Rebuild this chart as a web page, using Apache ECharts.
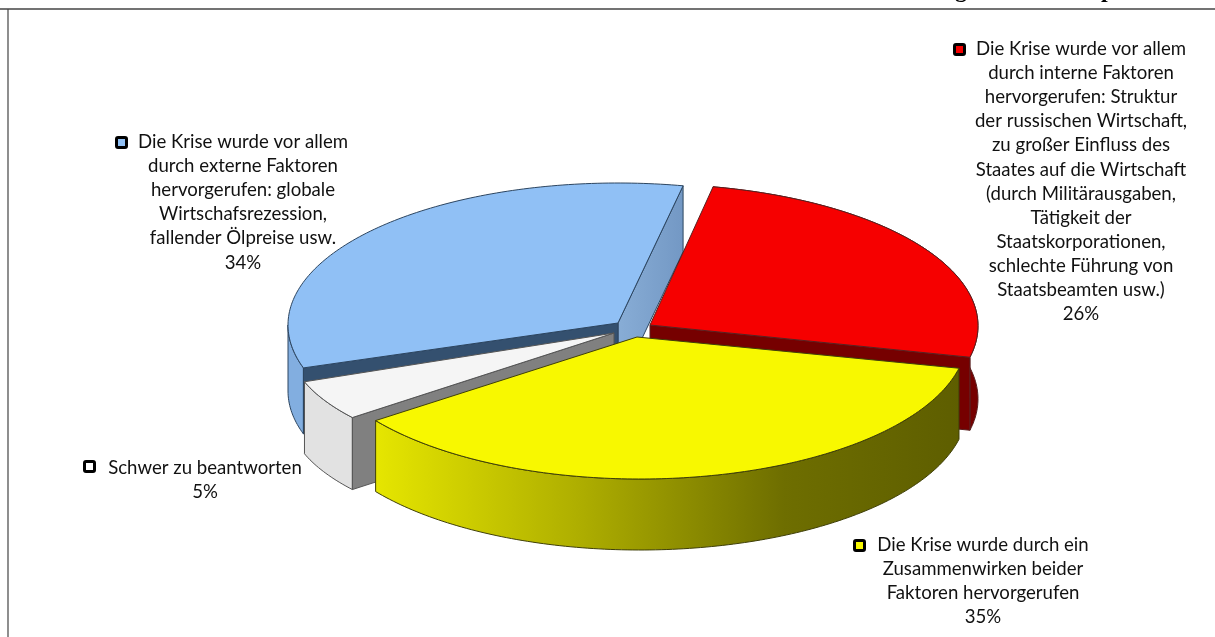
<!DOCTYPE html>
<html><head><meta charset="utf-8">
<style>html,body{margin:0;padding:0;background:#fff}#c{width:1215px;height:637px}</style>
<script src="https://cdn.jsdelivr.net/npm/echarts@6/dist/echarts.min.js"></script>
</head><body><div id="c"></div>
<script>
const categories = [
  "Die Krise wurde vor allem\ndurch interne Faktoren\nhervorgerufen: Struktur\nder russischen Wirtschaft,\nzu großer Einfluss des\nStaates auf die Wirtschaft\n(durch Militärausgaben,\nTätigkeit der\nStaatskorporationen,\nschlechte Führung von\nStaatsbeamten usw.)",
  "Die Krise wurde durch ein\nZusammenwirken beider\nFaktoren hervorgerufen",
  "Schwer zu beantworten",
  "Die Krise wurde vor allem\ndurch externe Faktoren\nhervorgerufen: globale\nWirtschafsrezession,\nfallender Ölpreise usw."
];
const values = [26, 35, 5, 34];
const topColors = ["#f60000", "#f8f800", "#f5f5f5", "#90c0f5"];
const cutColors = ["#760000", "#f8f800", "#808080", "#34506f"];
const edgeColors = ["#5a2020", "#3f3f08", "#555555", "#2c4560"];
const sideFills = [
  "#760000",
  {type:"linear",x:0,y:0,x2:1,y2:0,colorStops:[{offset:0,color:"#e6e600"},{offset:.35,color:"#aeae00"},{offset:.7,color:"#6e6e00"},{offset:1,color:"#5e5e00"}]},
  "#e2e2e2",
  "#82aee0"
];
const apex = [[650,325],[637,337],[614,333],[618,323]];
const centre = [[648,326],[640,337],[620,344],[618,325]];
const radiusX = [330,327,331,330];
const radiusY = [142,142,125,142];
const depth = [73,71,72,66];
const keyPos = [[953,43],[853,539],[83,460],[115,136]];
const labelPos = [[1081,37],[983,533],[205,456],[243,130]];
const drawOrder = [3,0,2,1];
const startDeg = -78, warp = 3;

const total = values.reduce((a,b)=>a+b,0);
const rad = d => d*Math.PI/180;
function warpDeg(t){ return t - warp*Math.cos(rad(t)); }
function sliceAngles(i){
  let before = 0; for(let k=0;k<i;k++) before += values[k];
  const a = startDeg + 360*before/total, b = startDeg + 360*(before+values[i])/total;
  return [warpDeg(a), warpDeg(b)];
}
function arc(i, from, to, dy){
  const pts=[], n=Math.max(2,Math.ceil(Math.abs(to-from)));
  for(let k=0;k<=n;k++){
    const t=rad(from+(to-from)*k/n);
    pts.push([centre[i][0]+radiusX[i]*Math.cos(t), centre[i][1]+radiusY[i]*Math.sin(t)+dy]);
  }
  return pts;
}
function poly(points, fill, stroke, z){
  return {type:"polygon", z2:z, shape:{points}, style:{fill, stroke:stroke||fill, lineWidth:1, lineJoin:"round"}};
}
function renderSlice(params){
  const idx = params.dataIndex, i = drawOrder[idx], base = idx*10;
  const [a,b] = sliceAngles(i);
  const d = depth[i], ap = apex[i], top = arc(i,a,b,0);
  const first = top[0], last = top[top.length-1];
  const kids = [];
  const down = p => [p[0],p[1]+d];
  if(i===3){
    const backFill = {type:"linear",x:0,y:0,x2:1,y2:0,colorStops:[{offset:0,color:"#88add6"},{offset:1,color:"#7398c4"}]};
    kids.push(poly([ap,last,down(last),down(ap)], backFill, edgeColors[i], base+1));
  }
  const wall = arc(i,a,Math.min(b,180),0);
  kids.push(poly(wall.concat(wall.slice().reverse().map(down)), sideFills[i], edgeColors[i], base+2));
  if(i===0) kids.push(poly([ap,last,down(last),down(ap)], cutColors[i], edgeColors[i], base+3));
  if(i===2||i===3) kids.push(poly([ap,first,down(first),down(ap)], cutColors[i], edgeColors[i], base+3));
  kids.push(poly([ap].concat(top), topColors[i], edgeColors[i], base+4));
  return {type:"group", children:kids};
}
function renderText(params){
  const i = params.dataIndex;
  const pct = Math.round(100*values[i]/total)+"%";
  return {type:"group", children:[
    {type:"rect", shape:{x:keyPos[i][0]+1.5,y:keyPos[i][1]+1.5,width:10,height:10,r:1.5},
     style:{fill:topColors[i]==="#f5f5f5"?"#ffffff":topColors[i],stroke:"#000",lineWidth:3}},
    {type:"text", x:labelPos[i][0], y:labelPos[i][1],
     style:{text:categories[i]+"\n"+pct, fill:"#111", font:"18.6px Lato", lineHeight:24.1, align:"center", verticalAlign:"top"}}
  ]};
}
const chart = echarts.init(document.getElementById("c"));
chart.setOption({
  animation:false,
  backgroundColor:"#fff",
  graphic:[
    {type:"line",shape:{x1:0,y1:9,x2:1215,y2:9},style:{stroke:"#444",lineWidth:1.4}},
    {type:"line",shape:{x1:8,y1:9,x2:8,y2:637},style:{stroke:"#444",lineWidth:1.2}},
    {type:"text",x:955,y:-21,style:{text:"g",font:"bold 24px 'Liberation Serif'",fill:"#000"}},
    {type:"text",x:1101,y:-21,style:{text:"p",font:"bold 24px 'Liberation Serif'",fill:"#000"}}
  ],
  series:[
    {type:"custom",coordinateSystem:"none",silent:true,data:drawOrder.map(i=>values[i]),renderItem:renderSlice,z:2},
    {type:"custom",coordinateSystem:"none",silent:true,data:values,renderItem:renderText,z:3}
  ]
});
</script></body></html>
